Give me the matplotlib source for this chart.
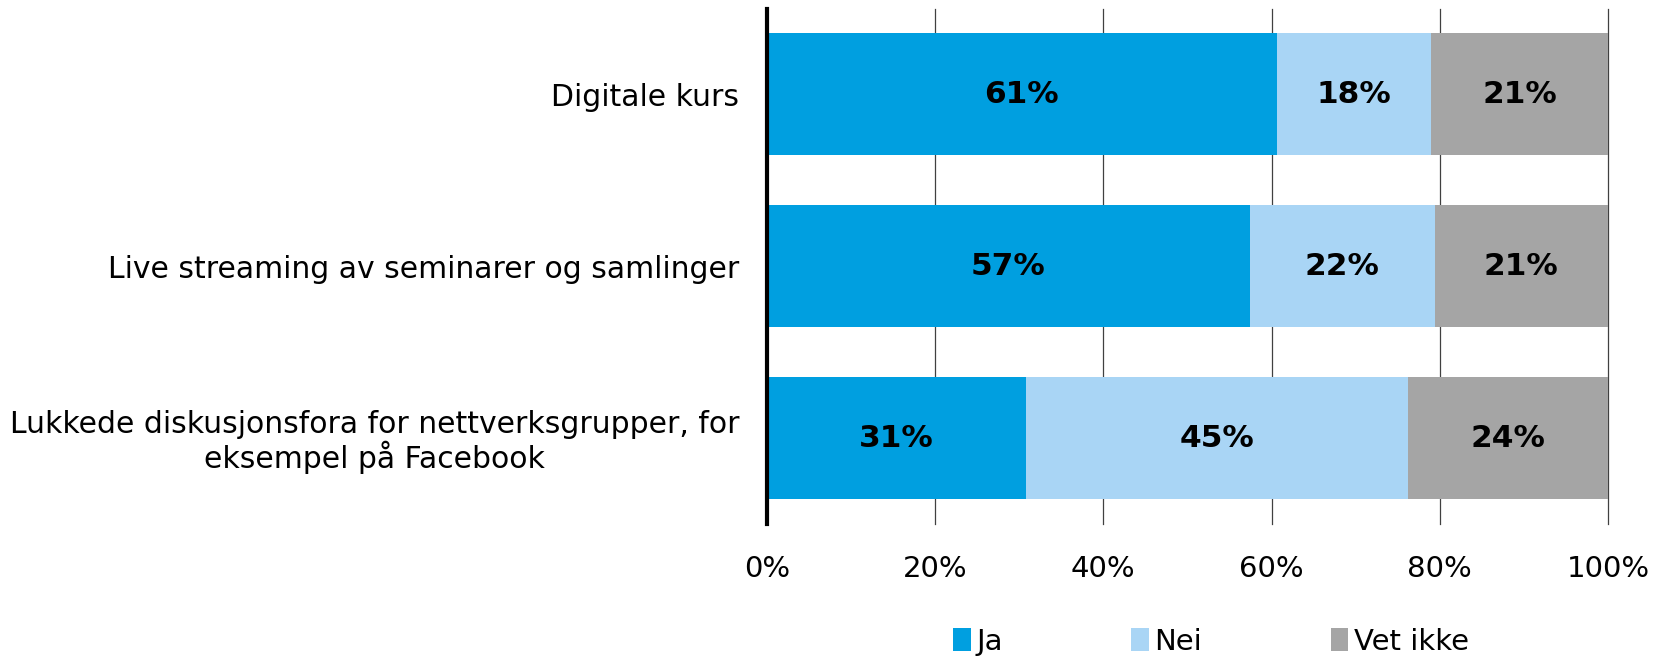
import matplotlib.pyplot as plt
import numpy as np

plt.rcParams['font.family'] = ['DejaVu Sans']

kategorier = ['Digitale kurs',
              'Live streaming av seminarer og samlinger',
              'Lukkede diskusjonsfora for nettverksgrupper, for\neksempel på Facebook']
ja = [60.6, 57.4, 30.8]
nei = [18.4, 22.0, 45.4]
vet_ikke = [21.0, 20.6, 23.8]
serier = ['Ja', 'Nei', 'Vet ikke']
farger = ['#009FE0', '#A9D5F5', '#A5A5A5']
xtikker = [0, 20, 40, 60, 80, 100]

fig = plt.figure(figsize=(16.59, 6.6), dpi=100)
ax = fig.add_axes([0.4623, 0.206, 0.5069, 0.781])

y = np.arange(len(kategorier))
venstre = np.zeros(len(kategorier))
for navn, verdier, farge in zip(serier, [ja, nei, vet_ikke], farger):
    bars = ax.barh(y, verdier, left=venstre, height=0.71, color=farge, label=navn, zorder=2)
    for b, v in zip(bars, verdier):
        ax.text(b.get_x() + b.get_width() / 2, b.get_y() + b.get_height() / 2,
                f'{round(v):d}%', ha='center', va='center', fontsize=22.5,
                fontweight='bold', color='black', zorder=3)
    venstre += np.array(verdier)

ax.set_xlim(0, 100)
ax.set_ylim(2.5, -0.5)
ax.set_xticks(xtikker)
ax.set_xticklabels([f'{t}%' for t in xtikker], fontsize=21)
ax.set_yticks(y)
ax.set_yticklabels(kategorier, fontsize=21.5, multialignment='center', linespacing=1.05)
ax.tick_params(axis='both', length=0)
ax.tick_params(axis='x', pad=22)
ax.tick_params(axis='y', pad=20)
ax.grid(axis='x', color='#404040', linewidth=0.9, zorder=1, clip_on=False)
for s in ['top', 'right', 'bottom']:
    ax.spines[s].set_visible(False)
ax.spines['left'].set_linewidth(3)
ax.spines['left'].set_zorder(4)

fig.legend(loc='center', bbox_to_anchor=(0.73, 0.028), ncol=3, frameon=False,
           fontsize=21, handlelength=0.6, handleheight=0.8, handletextpad=0.2,
           columnspacing=4.4)

fig.savefig('out.png', dpi=100)
